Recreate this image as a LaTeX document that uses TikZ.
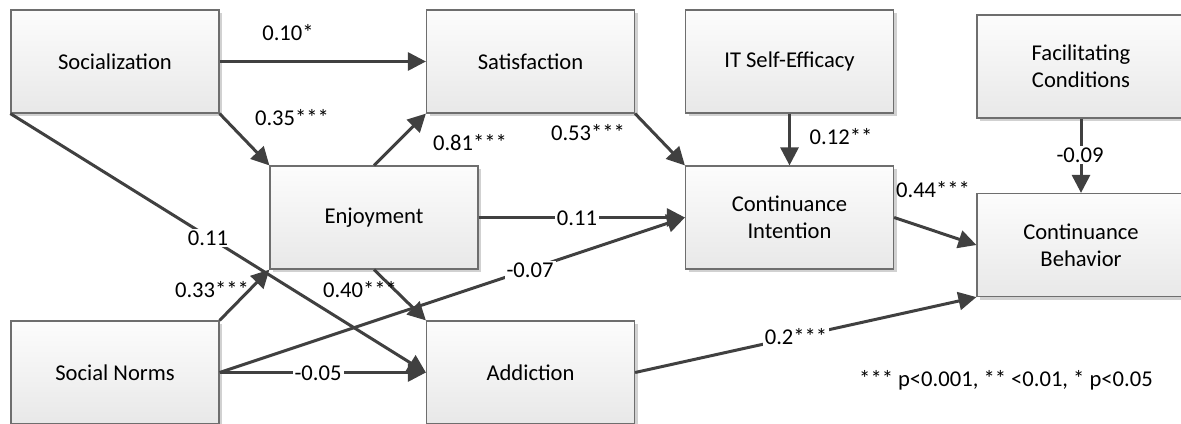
\documentclass[tikz,border=0pt]{standalone}
\usepackage{fontspec}
\setmainfont{Carlito}
\usetikzlibrary{arrows.meta,shadows}
\definecolor{pathgray}{RGB}{64,64,64}
\definecolor{boxline}{RGB}{110,110,110}
\tikzset{
    % construct box (Visio-like, light gradient and flat shadow)
    construct/.style={
        rectangle, draw=boxline, line width=0.6pt,
        top color=black!1, bottom color=black!9,
        minimum width=104pt, minimum height=51.5pt,
        inner sep=2pt, align=center,
        font=\fontsize{11.3}{13.5}\selectfont,
        drop shadow={shadow xshift=1.5pt, shadow yshift=-1.5pt,
                     fill=black!18, opacity=1}
    },
    % path coefficient arrow
    path/.style={draw=pathgray, line width=1.5pt,
                 -{Triangle[length=9pt,width=9pt]}},
    % coefficient labels
    coef/.style={font=\fontsize{11.3}{13.5}\selectfont, inner sep=1pt},
    oncoef/.style={coef, fill=white},
}
\begin{document}
\begin{tikzpicture}[x=0.5pt,y=-0.5pt]
  \useasboundingbox (0,0) rectangle (1181,423);

  % boxes, top row
  \node[construct] (soc)  at (115,61.5)   {Socialization};
  \node[construct] (sat)  at (530.5,61.5) {Satisfaction};
  \node[construct] (itse) at (789.5,61.5) {IT Self-Efficacy};
  \node[construct] (fc)   at (1081,66.5)  {Facilitating\\Conditions};

  % boxes, middle row
  \node[construct] (enj) at (374,217.5)   {Enjoyment};
  \node[construct] (ci)  at (789.5,217.5) {Continuance\\Intention};
  \node[construct] (cb)  at (1081,245)    {Continuance\\Behavior};

  % boxes, bottom row
  \node[construct] (sn)  at (115,372.5)   {Social Norms};
  \node[construct] (add) at (530.5,372.5) {Addiction};

  % paths
  \draw[path] (soc.east) -- (sat.west);
  \draw[path] (soc.south east) -- (enj.north west);
  \draw[path] (soc.south west) -- (add.west);
  \draw[path] (enj.north) -- (sat.south west);
  \draw[path] (enj.east) -- (ci.west);
  \draw[path] (enj.south) -- (add.north west);
  \draw[path] (sn.north east) -- (enj.south west);
  \draw[path] (sn.east) -- (add.west);
  \draw[path] (sn.east) -- (ci.west);
  \draw[path] (sat.south east) -- (ci.north west);
  \draw[path] (itse.south) -- (ci.north);
  \draw[path] (ci.east) -- (cb.west);
  \draw[path] (add.east) -- (cb.south west);
  \draw[path] (fc.south) -- (cb.north);

  % coefficients
  \node[coef]   (c-socsat) at (288,33)   {0.10*};
  \node[coef]   (c-socenj) at (292,118)  {0.35***};
  \node[oncoef] (c-socadd) at (208,238)  {0.11};
  \node[coef]   (c-enjsat) at (470,143)  {0.81***};
  \node[oncoef] (c-enjci)  at (577,218)  {0.11};
  \node[coef]   (c-enjadd) at (360,290)  {0.40***};
  \node[coef]   (c-snenj)  at (212,290)  {0.33***};
  \node[oncoef] (c-snadd)  at (318,373)  {-0.05};
  \node[oncoef] (c-snci)   at (530,270)  {-0.07};
  \node[coef]   (c-satci)  at (588,133)  {0.53***};
  \node[coef]   (c-itci)   at (841,137)  {0.12**};
  \node[coef]   (c-cicb)   at (933,190)  {0.44***};
  \node[oncoef] (c-addcb)  at (796,337)  {0.2***};
  \node[oncoef] (c-fccb)   at (1080,155) {-0.09};

  % significance note
  \node[coef] (note) at (1006,380) {*** p<0.001, ** <0.01, * p<0.05};
\end{tikzpicture}
\end{document}
